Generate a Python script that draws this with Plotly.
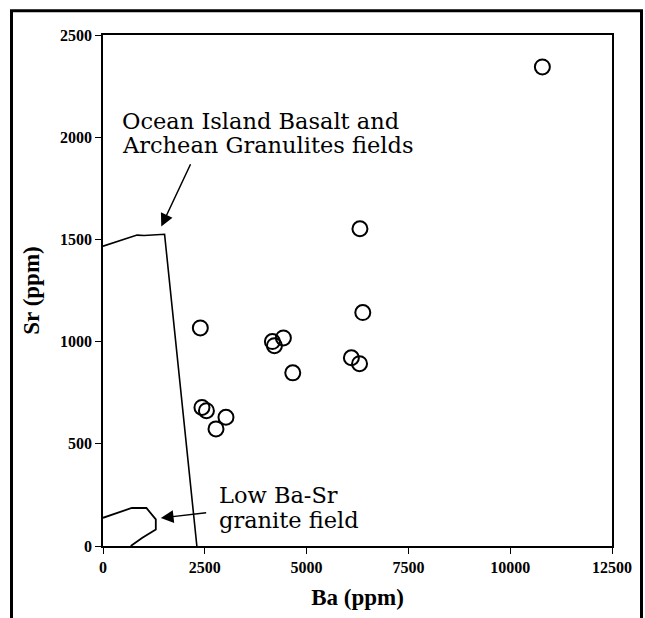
import plotly.graph_objects as go

# Sample data: Ba vs Sr (ppm)
ba = [10790, 6310, 6380, 2390, 4160, 4210, 4430, 4660, 6100, 6300, 2430, 2540, 3020, 2775]
sr = [2344, 1552, 1142, 1067, 1000, 980, 1018, 847, 921, 892, 678, 662, 630, 573]

# Ocean Island Basalt / Archean Granulites field boundary
oib_ba = [0, 837, 1008, 1512, 2305]
oib_sr = [1467, 1521, 1519, 1525, 0]

# Low Ba-Sr granite field boundary
low_ba = [0, 435, 706, 1066, 1297, 1297, 967, 681]
low_sr = [138, 168, 186, 186, 130, 81, 40, 0]

x_ticks = [0, 2500, 5000, 7500, 10000, 12500]
y_ticks = [0, 500, 1000, 1500, 2000, 2500]

oib_lines = ["Ocean Island Basalt and", "Archean Granulites fields"]
low_lines = ["Low Ba-Sr", "granite field"]

serif = "Liberation Serif"
anno_font = "DejaVu Serif"

fig = go.Figure()
fig.add_trace(go.Scatter(x=oib_ba, y=oib_sr, mode="lines",
                         line=dict(color="black", width=1.6),
                         hoverinfo="skip", showlegend=False))
fig.add_trace(go.Scatter(x=low_ba, y=low_sr, mode="lines",
                         line=dict(color="black", width=1.8),
                         hoverinfo="skip", showlegend=False))
fig.add_trace(go.Scatter(x=ba, y=sr, mode="markers",
                         marker=dict(symbol="circle-open", size=15, color="black",
                                     line=dict(width=2, color="black")),
                         showlegend=False))

for txt, yv in zip(oib_lines, [2080, 1960]):
    fig.add_annotation(x=420, y=yv, xref="x", yref="y", xanchor="left", yanchor="middle",
                       text=txt, showarrow=False, align="left",
                       font=dict(family=anno_font, size=22.5, color="black"))
fig.add_annotation(x=1431, y=1563, xref="x", yref="y",
                   ax=2167, ay=1875, axref="x", ayref="y",
                   text="", showarrow=True, arrowhead=2, arrowsize=1.7,
                   arrowwidth=1.5, arrowcolor="black")

for txt, yv in zip(low_lines, [248, 126]):
    fig.add_annotation(x=2790, y=yv, xref="x", yref="y", xanchor="left", yanchor="middle",
                       text=txt, showarrow=False, align="left",
                       font=dict(family=anno_font, size=22.5, color="black"))
fig.add_annotation(x=1420, y=137, xref="x", yref="y",
                   ax=2570, ay=163, axref="x", ayref="y",
                   text="", showarrow=True, arrowhead=2, arrowsize=1.7,
                   arrowwidth=1.5, arrowcolor="black")

# Outer frame of the figure
fig.add_shape(type="rect", xref="paper", yref="paper",
              x0=(11.5 - 103) / 509, x1=(641.5 - 103) / 509,
              y0=(550 - 640) / 514.5, y1=(550 - 11) / 514.5,
              line=dict(color="black", width=3), fillcolor="rgba(0,0,0,0)")

axis_common = dict(showgrid=False, zeroline=False, showline=True, mirror=True,
                   linecolor="black", linewidth=1.6, ticks="outside", ticklen=6,
                   tickwidth=1.2, tickcolor="black",
                   tickfont=dict(family=serif, size=16, color="black", weight="bold"))

fig.update_xaxes(range=[0, 12500], tickvals=x_ticks,
                 ticktext=[str(v) for v in x_ticks],
                 title=dict(text="Ba (ppm)", standoff=14,
                            font=dict(family=serif, size=23, color="black", weight="bold")),
                 **axis_common)
fig.update_yaxes(range=[0, 2500], tickvals=y_ticks,
                 ticktext=[str(v) for v in y_ticks],
                 title=dict(text="Sr (ppm)", standoff=14,
                            font=dict(family=serif, size=23, color="black", weight="bold")),
                 **axis_common)

fig.update_layout(width=645, height=618,
                  margin=dict(l=103, r=33, t=35, b=68),
                  plot_bgcolor="white", paper_bgcolor="white")

fig.write_html("out.html", config={"displayModeBar": False},
               post_script="document.body.style.margin='0';document.body.style.overflow='hidden';")
